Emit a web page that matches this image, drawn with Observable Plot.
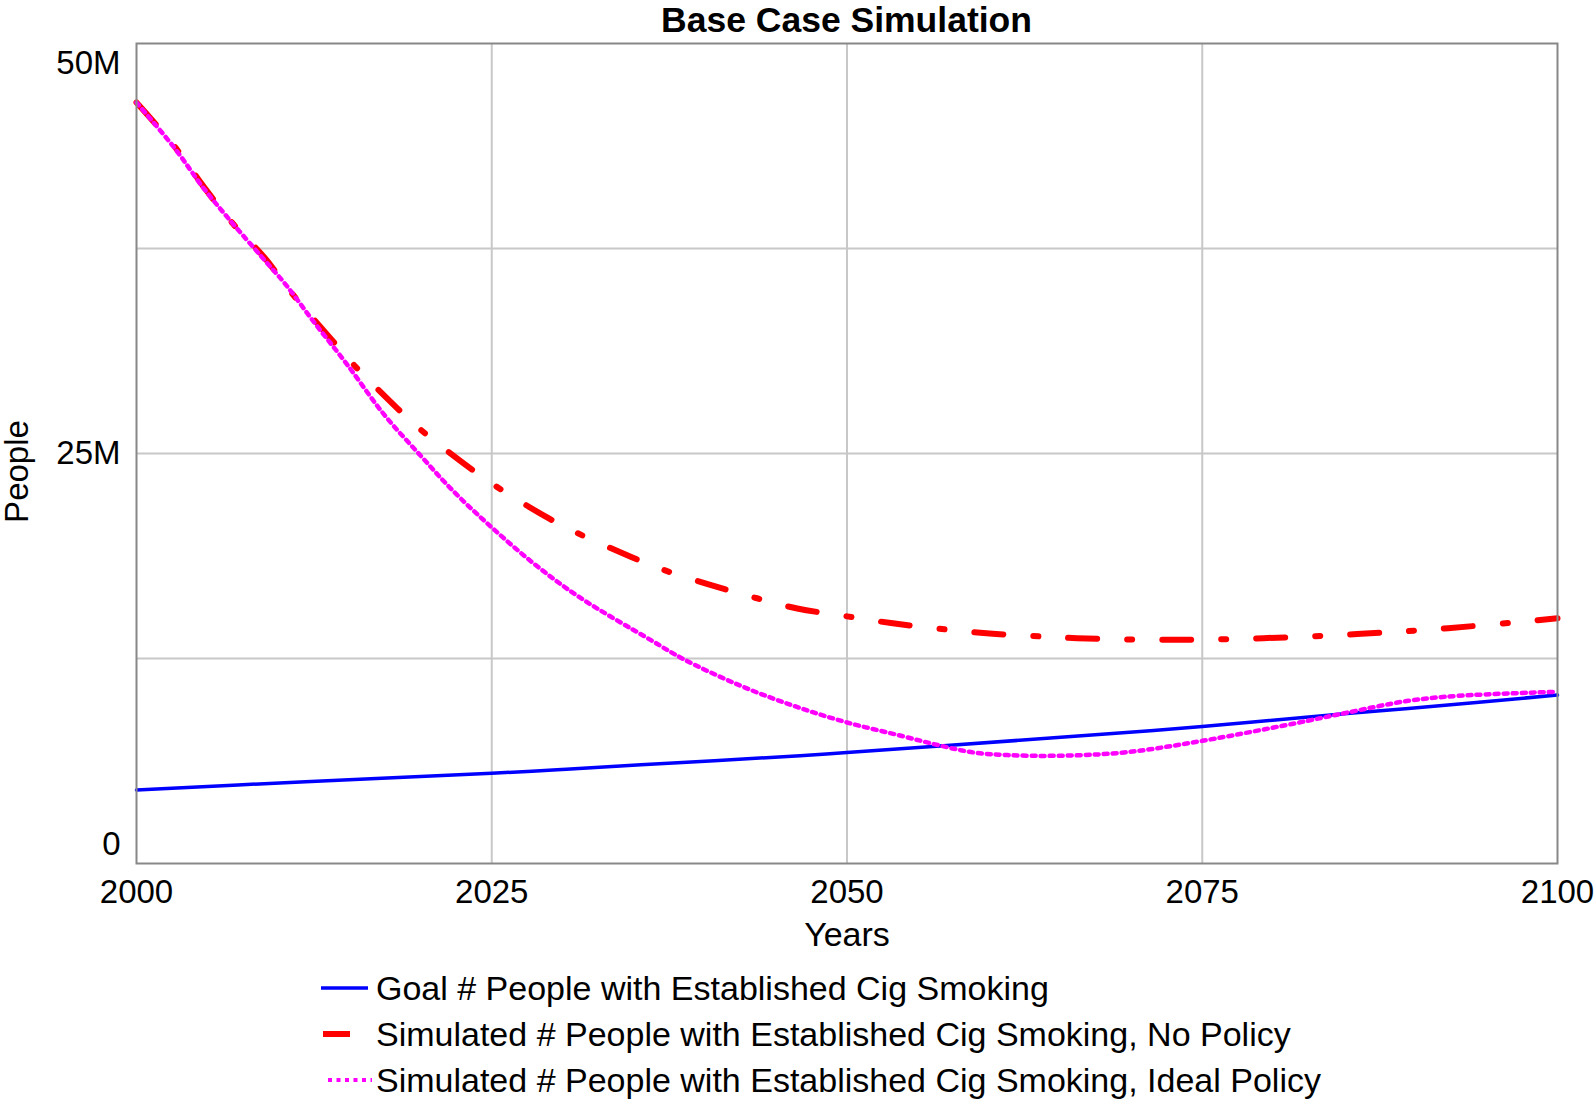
<!DOCTYPE html>
<html>
<head>
<meta charset="utf-8">
<script src="https://cdn.jsdelivr.net/npm/d3@7"></script>
<script src="https://cdn.jsdelivr.net/npm/@observablehq/plot@0.6"></script>
<style>
  html, body { margin: 0; padding: 0; background: #fff; overflow: hidden; }
  body { width: 1594px; font-family: "Liberation Sans", Arial, sans-serif; color: #000; }
  #title { height: 36px; line-height: 40px; font-size: 35.5px; font-weight: bold; text-align: center; padding-left: 136px; padding-right: 37px; box-sizing: border-box; width: 1594px; position: relative; z-index: 1; }
  #legend { padding-top: 7px; font-size: 34px; }
  .row { height: 46px; display: flex; align-items: center; }
  .row svg { margin-left: 320px; flex: none; }
  .row span { margin-left: 4px; white-space: nowrap; }
</style>
</head>
<body>
<div id="title">Base Case Simulation</div>
<div id="chart"></div>
<div id="legend"></div>
<script>
// ---- data (values in people) ----
const seriesNames = [
  "Goal # People with Established Cig Smoking",
  "Simulated # People with Established Cig Smoking, No Policy",
  "Simulated # People with Established Cig Smoking, Ideal Policy"
];

const goalYears  = [2000, 2011.9, 2025, 2029.6, 2035.5, 2046.7, 2050, 2056.3, 2064.8, 2075, 2085.2, 2089.5, 2100];
const goalValues = [4.48, 4.99, 5.5, 5.72, 6.02, 6.57, 6.77, 7.15, 7.68, 8.35, 9.15, 9.45, 10.27].map(v => v * 1e6);

const noPolicyYears  = [2000, 2002.7, 2004.7, 2006.7, 2009, 2011, 2013.7, 2015.3, 2018.3, 2020, 2023.4, 2025.3, 2028.9, 2031, 2034.9, 2037, 2040.2, 2043.3, 2046.5, 2050, 2053.1, 2056.3, 2059.6, 2062.9, 2066.2, 2072.7, 2079.3, 2085.9, 2092.3, 2100];
const noPolicyValues = [46.4, 43.7, 41.3, 39.1, 36.95, 34.7, 31.97, 30.4, 27.8, 26.45, 24.15, 23.0, 21.1, 20.16, 18.66, 17.93, 17.04, 16.26, 15.55, 15.07, 14.66, 14.33, 14.05, 13.88, 13.74, 13.64, 13.74, 13.99, 14.35, 14.95].map(v => v * 1e6);

const idealYears  = [2000, 2002.7, 2004.7, 2006.6, 2008.8, 2010.5, 2012.5, 2014.8, 2017.4, 2020, 2022.3, 2025, 2028, 2031.2, 2036.2, 2038.5, 2042.5, 2046.3, 2050, 2053.8, 2056.6, 2058.9, 2061.3, 2064.8, 2069.5, 2075, 2082.4, 2085.2, 2089.5, 2093, 2100];
const idealValues = [46.4, 43.6, 41.2, 39.2, 37.0, 35.3, 33.0, 30.45, 27.4, 24.86, 22.7, 20.49, 18.26, 16.22, 13.62, 12.46, 10.84, 9.6, 8.6, 7.79, 7.18, 6.77, 6.61, 6.57, 6.77, 7.48, 8.7, 9.2, 9.92, 10.22, 10.47].map(v => v * 1e6);

const xTicks = [2000, 2025, 2050, 2075, 2100];
const xGrid = [2025, 2050, 2075];
const yGrid = [12.5e6, 25e6, 37.5e6];
const yLabelTicks = [0, 25e6, 50e6];

// ---- build tables ----
const toRows = (years, values) => years.map((year, i) => ({year, value: values[i]}));
const goal = toRows(goalYears, goalValues);
const noPolicy = toRows(noPolicyYears, noPolicyValues);
const ideal = toRows(idealYears, idealValues);

const fmtY = d => d === 0 ? "0" : `${d / 1e6}M`;
const yAxisCommon = {tickSize: 0, tickPadding: 16, tickFormat: fmtY, label: null};

const chart = Plot.plot({
  width: 1594,
  height: 922,
  marginTop: 7,
  marginBottom: 95,
  marginLeft: 136,
  marginRight: 37,
  style: {fontSize: "33px", fontFamily: "'Liberation Sans', Arial, sans-serif", color: "#000", background: "transparent", overflow: "visible"},
  x: {domain: [2000, 2100]},
  y: {domain: [0, 50e6]},
  marks: [
    Plot.gridX(xGrid, {stroke: "#c8c8c8", strokeOpacity: 1, strokeWidth: 2}),
    Plot.gridY(yGrid, {stroke: "#c8c8c8", strokeOpacity: 1, strokeWidth: 2}),
    Plot.axisX({ticks: xTicks, tickSize: 0, tickPadding: 16, tickFormat: d => `${d}`, label: null}),
    Plot.axisY({...yAxisCommon, ticks: [yLabelTicks[2]], dy: 20}),
    Plot.axisY({...yAxisCommon, ticks: [yLabelTicks[1]], dy: 0}),
    Plot.axisY({...yAxisCommon, ticks: [yLabelTicks[0]], dy: -19}),
    Plot.text(["Years"], {text: d => d, frameAnchor: "bottom", dy: 72, lineAnchor: "middle", textAnchor: "middle", fontSize: 34}),
    Plot.text(["People"], {text: d => d, frameAnchor: "left", dx: -119, dy: 18, rotate: -90, lineAnchor: "middle", textAnchor: "middle", fontSize: 33}),
    Plot.line(goal, {x: "year", y: "value", stroke: "#0000ff", strokeWidth: 3.5, curve: "catmull-rom"}),
    Plot.line(noPolicy, {x: "year", y: "value", stroke: "#ff0000", strokeWidth: 6, strokeDasharray: "29,30,5,30", curve: "catmull-rom"}),
    Plot.line(ideal, {x: "year", y: "value", stroke: "#ff00ff", strokeWidth: 4.5, strokeDasharray: "4,5", curve: "catmull-rom"}),
    Plot.frame({stroke: "#888", strokeWidth: 2})
  ]
});
document.getElementById("chart").appendChild(chart);

// ---- legend ----
const swatches = [
  {x1: 1, x2: 48, stroke: "#0000ff", width: 3.5, dash: null},
  {x1: 3, x2: 30, stroke: "#ff0000", width: 6, dash: null},
  {x1: 8, x2: 52, stroke: "#ff00ff", width: 4, dash: "4,4.5"}
];
const legend = d3.select("#legend");
seriesNames.forEach((name, i) => {
  const s = swatches[i];
  const row = legend.append("div").attr("class", "row");
  const svg = row.append("svg").attr("width", 52).attr("height", 10);
  const ln = svg.append("line").attr("x1", s.x1).attr("x2", s.x2).attr("y1", 5).attr("y2", 5)
    .attr("stroke", s.stroke).attr("stroke-width", s.width);
  if (s.dash) ln.attr("stroke-dasharray", s.dash);
  row.append("span").text(name);
});
</script>
</body>
</html>
